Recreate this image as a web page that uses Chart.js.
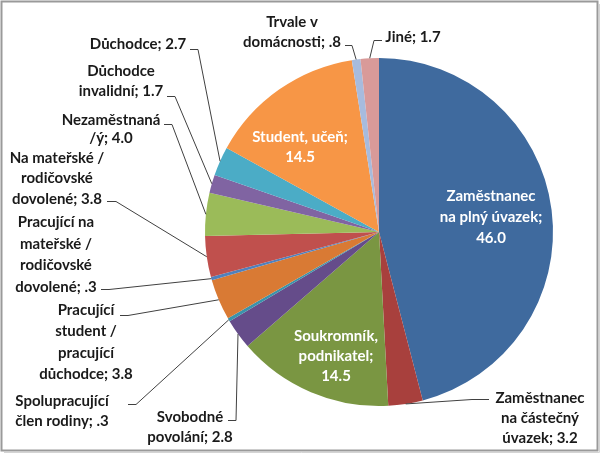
<!DOCTYPE html>
<html>
<head>
<meta charset="utf-8">
<title>Pie</title>
<script src="https://cdn.jsdelivr.net/npm/chart.js@4.4.0/dist/chart.umd.min.js"></script>
<style>
    body { margin: 0; background: #fff; }
    #wrap { position: relative; width: 602px; height: 453px; }
</style>
</head>
<body>
<div id="wrap"><canvas id="pieChart" width="602" height="453"></canvas></div>
<script>
// data
var categories = [
    "Zaměstnanec na plný úvazek",
    "Zaměstnanec na částečný úvazek",
    "Soukromník, podnikatel",
    "Svobodné povolání",
    "Spolupracující člen rodiny",
    "Pracující student / pracující důchodce",
    "Pracující na mateřské / rodičovské dovolené",
    "Na mateřské / rodičovské dovolené",
    "Nezaměstnaná /ý",
    "Důchodce invalidní",
    "Důchodce",
    "Student, učeň",
    "Trvale v domácnosti",
    "Jiné"
];
var values = [46.0, 3.2, 14.5, 2.8, 0.3, 3.8, 0.3, 3.8, 4.0, 1.7, 2.7, 14.5, 0.8, 1.7];
var valueLabels = ["46.0", "3.2", "14.5", "2.8", ".3", "3.8", ".3", "3.8", "4.0", "1.7", "2.7", "14.5", ".8", "1.7"];
// how each label text is broken into lines (value is appended to the last line)
var labelLines = [
    ["Zaměstnanec", "na plný úvazek;", ""],
    ["Zaměstnanec", "na částečný", "úvazek; "],
    ["Soukromník,", "podnikatel;", ""],
    ["Svobodné", "povolání; "],
    ["Spolupracující", "člen rodiny; "],
    ["Pracující", "student /", "pracující", "důchodce; "],
    ["Pracující na", "mateřské /", "rodičovské", "dovolené; "],
    ["Na mateřské /", "rodičovské", "dovolené; "],
    ["Nezaměstnaná", "/ý; "],
    ["Důchodce", "invalidní; "],
    ["Důchodce; "],
    ["Student, učeň;", ""],
    ["Trvale v", "domácnosti; "],
    ["Jiné; "]
];
var colors = ['#3F6A9E', '#A8403D', '#7A9642', '#654C8A', '#3A93AB', '#D97A34', '#4F81BD',
    '#C0504D', '#9BBB59', '#8064A2', '#4BACC6', '#F79646', '#A7BBDD', '#D99A99'];

// label placement (layout only): text block centre x, first line y, line height,
// and the short stub where the leader line leaves the label
var labelPos = [
    {inside: true, x: 491, y: 196, lh: 21},
    {x: 540, y: 398, lh: 20, stub: [489, 399, 472]},
    {inside: true, x: 336, y: 336, lh: 20},
    {x: 190, y: 417, lh: 20, stub: [228, 420, 236]},
    {x: 62, y: 401, lh: 20, stub: [128, 404, 136]},
    {x: 86, y: 310, lh: 21.5, stub: [120, 315, 128]},
    {x: 56, y: 222, lh: 21.7, stub: [101, 289, 109]},
    {x: 57, y: 158, lh: 20.5, stub: [107, 201, 116]},
    {x: 111, y: 120, lh: 18.5, stub: [164, 124, 172]},
    {x: 121, y: 71, lh: 20, stub: [167, 96, 175]},
    {x: 138, y: 44, lh: 20, stub: [190, 49, 198]},
    {inside: true, x: 300, y: 137, lh: 20},
    {x: 292, y: 22, lh: 20, stub: [345, 45, 352]},
    {x: 413, y: 37, lh: 20, stub: [382, 40, 374]}
];

var labelPlugin = {
    id: 'pieLabels',
    afterDatasetsDraw: function (chart) {
        var ctx = chart.ctx;
        var arcs = chart.getDatasetMeta(0).data;
        ctx.save();
        ctx.font = 'bold 15px Lato, "Open Sans", sans-serif';
        ctx.textAlign = 'center';
        ctx.textBaseline = 'middle';
        for (var i = 0; i < arcs.length; i++) {
            var p = labelPos[i];
            var lines = labelLines[i].slice();
            lines[lines.length - 1] += valueLabels[i];
            if (!p.inside) {
                var a = arcs[i].getProps(['x', 'y', 'startAngle', 'endAngle', 'outerRadius'], true);
                var mid = (a.startAngle + a.endAngle) / 2;
                var ex = a.x + Math.cos(mid) * a.outerRadius;
                var ey = a.y + Math.sin(mid) * a.outerRadius;
                ctx.strokeStyle = '#404040';
                ctx.lineWidth = 1;
                ctx.beginPath();
                ctx.moveTo(p.stub[0], p.stub[1] + 0.5);
                ctx.lineTo(p.stub[2], p.stub[1] + 0.5);
                ctx.lineTo(ex, ey);
                ctx.stroke();
            }
            ctx.fillStyle = p.inside ? '#ffffff' : '#1a1a1a';
            for (var j = 0; j < lines.length; j++) {
                ctx.fillText(lines[j], p.x, p.y + j * p.lh);
            }
        }
        ctx.restore();
    }
};

var framePlugin = {
    id: 'frame',
    afterDraw: function (chart) {
        var ctx = chart.ctx;
        ctx.save();
        ctx.strokeStyle = '#9a9a9a';
        ctx.lineWidth = 2;
        ctx.strokeRect(1.5, 1.5, 596, 449);
        ctx.strokeStyle = '#d4d4d4';
        ctx.lineWidth = 1;
        ctx.beginPath();
        ctx.moveTo(599.5, 4);
        ctx.lineTo(599.5, 452.5);
        ctx.lineTo(4, 452.5);
        ctx.stroke();
        ctx.restore();
    }
};

var pieElem = document.getElementById("pieChart");
var pieChart = new Chart(pieElem, {
    type: 'pie',
    data: {
        labels: categories,
        datasets: [
            {
                data: values,
                backgroundColor: colors,
                borderWidth: 0
            }
        ]
    },
    options: {
        responsive: false,
        animation: false,
        layout: {padding: {left: 205, right: 49, top: 58, bottom: 47}},
        plugins: {
            legend: {display: false},
            tooltip: {enabled: false}
        }
    },
    plugins: [labelPlugin, framePlugin]
});
</script>
</body>
</html>
